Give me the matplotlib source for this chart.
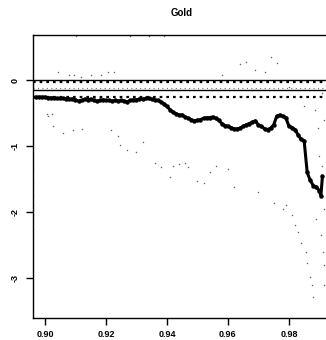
import numpy as np
import matplotlib.pyplot as plt

# main series (thick black)
main_x = [0.897, 0.898, 0.899, 0.900, 0.901, 0.902, 0.903, 0.904, 0.905, 0.906,
          0.907, 0.908, 0.909, 0.910, 0.911, 0.912, 0.913, 0.914, 0.915, 0.916,
          0.917, 0.918, 0.919, 0.920, 0.921, 0.922, 0.923, 0.924, 0.925, 0.926,
          0.927, 0.928, 0.929, 0.930, 0.931, 0.932, 0.933, 0.934, 0.935, 0.936,
          0.937, 0.938, 0.939, 0.940, 0.941, 0.942, 0.943, 0.944, 0.945, 0.946,
          0.947, 0.948, 0.949, 0.950, 0.951, 0.952, 0.953, 0.954, 0.955, 0.956,
          0.957, 0.958, 0.959, 0.960, 0.961, 0.962, 0.963, 0.964, 0.965, 0.966,
          0.967, 0.968, 0.969, 0.970, 0.971, 0.972, 0.973, 0.974, 0.975, 0.976,
          0.977, 0.978, 0.979, 0.980, 0.981, 0.982, 0.983, 0.984, 0.985, 0.986,
          0.987, 0.988, 0.989, 0.990, 0.9905, 0.991]
main_y = [-0.26, -0.26, -0.26, -0.26, -0.27, -0.27, -0.27, -0.28, -0.28, -0.28,
          -0.29, -0.29, -0.29, -0.30, -0.32, -0.31, -0.29, -0.30, -0.29, -0.31,
          -0.32, -0.31, -0.30, -0.31, -0.31, -0.32, -0.31, -0.32, -0.31, -0.32,
          -0.33, -0.31, -0.30, -0.30, -0.29, -0.29, -0.28, -0.28, -0.29, -0.30,
          -0.31, -0.33, -0.36, -0.40, -0.45, -0.49, -0.51, -0.53, -0.53, -0.56,
          -0.58, -0.60, -0.62, -0.61, -0.60, -0.58, -0.57, -0.57, -0.56, -0.58,
          -0.61, -0.66, -0.69, -0.70, -0.72, -0.74, -0.74, -0.73, -0.70, -0.68,
          -0.66, -0.64, -0.62, -0.68, -0.70, -0.74, -0.75, -0.73, -0.68, -0.55,
          -0.53, -0.55, -0.57, -0.70, -0.72, -0.75, -0.83, -0.90, -0.92, -1.40,
          -1.52, -1.60, -1.62, -1.68, -1.75, -1.46]

# scattered grey points
grey_x = [0.9005, 0.9010, 0.9022, 0.9027, 0.9044, 0.9059, 0.9080, 0.9092, 0.9095,
          0.9102, 0.9118, 0.9122, 0.9152, 0.9183, 0.9208, 0.9216, 0.9228, 0.9238,
          0.9246, 0.9270, 0.9280, 0.9300, 0.9320, 0.9340, 0.9360, 0.9380, 0.9390,
          0.9410, 0.9420, 0.9440, 0.9460, 0.9470, 0.9500, 0.9520, 0.9540, 0.9560,
          0.9580, 0.9600, 0.9620, 0.9640, 0.9660, 0.9690, 0.9700, 0.9720, 0.9740,
          0.9750, 0.9760, 0.9780, 0.9790, 0.9800, 0.9810, 0.9820, 0.9830, 0.9840,
          0.9850, 0.9855, 0.9860, 0.9870, 0.9875, 0.9880, 0.9885, 0.9890, 0.9895,
          0.9900, 0.9905, 0.9908, 0.9910, 0.9913, 0.9915, 0.9915, 0.9915, 0.9915]
grey_y = [-0.52, -0.54, -0.52, -0.70, 0.12, -0.80, 0.08, -0.76, 0.07, 0.66,
          0.05, -0.74, 0.08, 0.07, 0.12, -0.76, 0.12, -0.85, -0.98, -1.06,
          0.66, -1.09, -0.94, 0.66, -1.26, -1.32, 0.66, -1.47, -1.30, -1.28,
          -1.26, -1.32, -1.53, -1.56, -1.40, -1.30, 0.08, -1.35, -1.62, 0.24,
          0.28, 0.15, -1.70, 0.12, 0.35, -1.86, 0.26, -1.95, -1.90, -0.10,
          -2.05, -2.20, -2.30, -2.47, -0.39, -2.60, -2.77, -2.98, -3.10, -3.29,
          -0.45, -2.10, -0.72, -1.15, -2.35, -0.20, -1.30, -2.60, -0.60, -1.95,
          -2.80, -3.10]

left_x = [0.8962, 0.8962, 0.8962, 0.8962, 0.8962, 0.8962]
left_y = [-1.35, -1.55, -1.75, -1.90, -2.05, -2.25]

solid_lines = [0.0, -0.15]
dotted_lines = [-0.03, -0.26]
faint_lines = [-0.12]

plt.rcParams['font.family'] = ['Liberation Sans', 'DejaVu Sans']

fig = plt.figure(figsize=(3.26, 3.40), dpi=100)
ax = fig.add_axes([33 / 326, 1 - 318 / 340, 298 / 326, 283 / 340])

for v in solid_lines:
    ax.axhline(v, color='black', lw=1.0)
for v in dotted_lines:
    ax.axhline(v, color='black', lw=1.6, ls=(0, (1.2, 1.8)))
for v in faint_lines:
    ax.axhline(v, color='#777777', lw=0.8, ls=(0, (1, 3)))

ax.scatter(grey_x, grey_y, s=1.2, color='#666666', lw=0)
ax.scatter(left_x, left_y, s=1.2, color='#666666', lw=0)
ax.plot(main_x, main_y, color='black', lw=2.2, marker='o', ms=2.2)

ax.set_xlim(0.89607, 0.99381)
ax.set_ylim(-3.606, 0.682)
ax.set_xticks([0.90, 0.92, 0.94, 0.96, 0.98])
ax.set_xticklabels(['0.90', '0.92', '0.94', '0.96', '0.98'], fontsize=6.5, fontweight='bold')
ax.set_yticks([0, -1, -2, -3])
ax.set_yticklabels(['0', '-1', '-2', '-3'], fontsize=6.5, fontweight='bold',
                   rotation=90, va='center')
ax.tick_params(axis='both', length=5, width=1, direction='out')
ax.tick_params(axis='x', pad=3.5)
ax.tick_params(axis='y', pad=4.5)
for s in ax.spines.values():
    s.set_linewidth(1.0)

fig.text(182 / 326, 1 - 13 / 340, 'Gold', ha='center', va='center',
         fontsize=7, fontweight='bold')

fig.savefig('out.png', dpi=100)
